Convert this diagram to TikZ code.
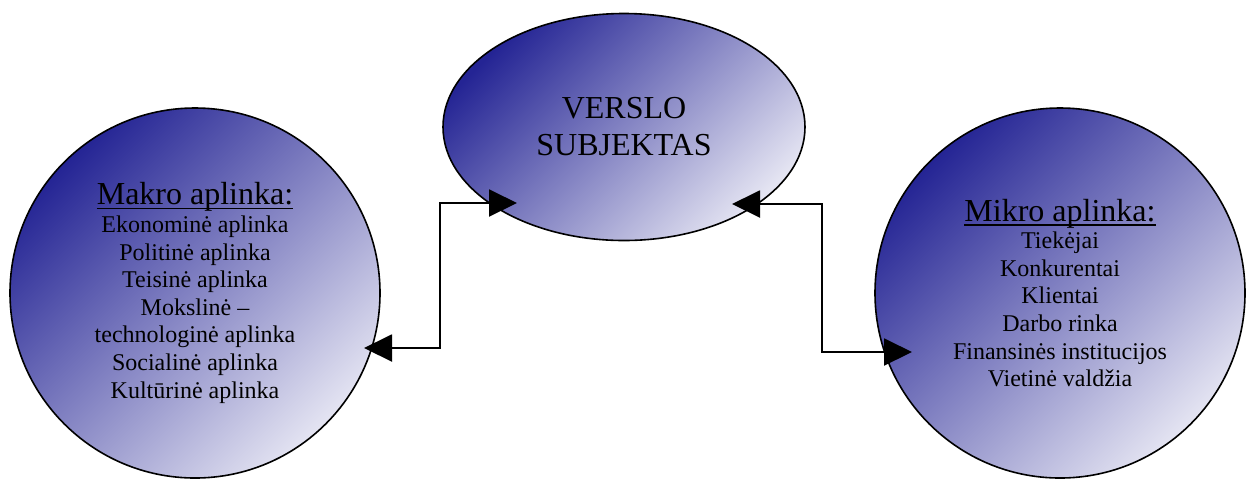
\documentclass[tikz,border=0pt]{standalone}
\usepackage{fontspec}
\setmainfont{Liberation Serif}
\usetikzlibrary{shapes.geometric,arrows.meta,calc}
\definecolor{bubbledark}{RGB}{36,36,148}
\definecolor{bubblelight}{RGB}{228,228,242}
\tikzset{
   bubble/.style={draw, line width=0.8pt, inner sep=0pt, align=center,
      top color=bubbledark, bottom color=bubblelight, shading angle=45},
   link/.style={line width=1pt,
      {Triangle[length=14pt,width=13.5pt]}-{Triangle[length=14pt,width=13.5pt]}}
}
\newcommand{\headline}[1]{{\fontsize{16}{18}\selectfont\setbox0\hbox{#1}%
   \rlap{\rule[-2.2pt]{\wd0}{0.7pt}}\box0}}
\begin{document}
\begin{tikzpicture}[x=0.5pt, y=-0.5pt, font=\fontsize{12}{13.8}\selectfont]
   \useasboundingbox (0,0) rectangle (1249,479);
   % centre
   \node[bubble, ellipse, minimum width=181pt, minimum height=113.5pt,
      font=\fontsize{16}{18.5}\selectfont] (subj) at (624,127) {VERSLO\\SUBJEKTAS};
   % environments
   \node[bubble, circle, minimum size=185pt] (makro) at (195,293) {
      \headline{Makro aplinka:}\\
      Ekonominė aplinka\\
      Politinė aplinka\\
      Teisinė aplinka\\
      Mokslinė –\\
      technologinė aplinka\\
      Socialinė aplinka\\
      Kultūrinė aplinka};
   \node[bubble, circle, minimum size=185pt] (mikro) at (1060,293) {
      \headline{Mikro aplinka:}\\
      Tiekėjai\\
      Konkurentai\\
      Klientai\\
      Darbo rinka\\
      Finansinės institucijos\\
      Vietinė valdžia};
   % links
   \draw[link] ($(subj.center)+(-107,76)$) -- ++(-77,0) |- ($(makro.center)+(169,55)$);
   \draw[link] ($(subj.center)+(108,77)$) -- ++(90,0) |- ($(mikro.center)+(-148,59)$);
\end{tikzpicture}
\end{document}
